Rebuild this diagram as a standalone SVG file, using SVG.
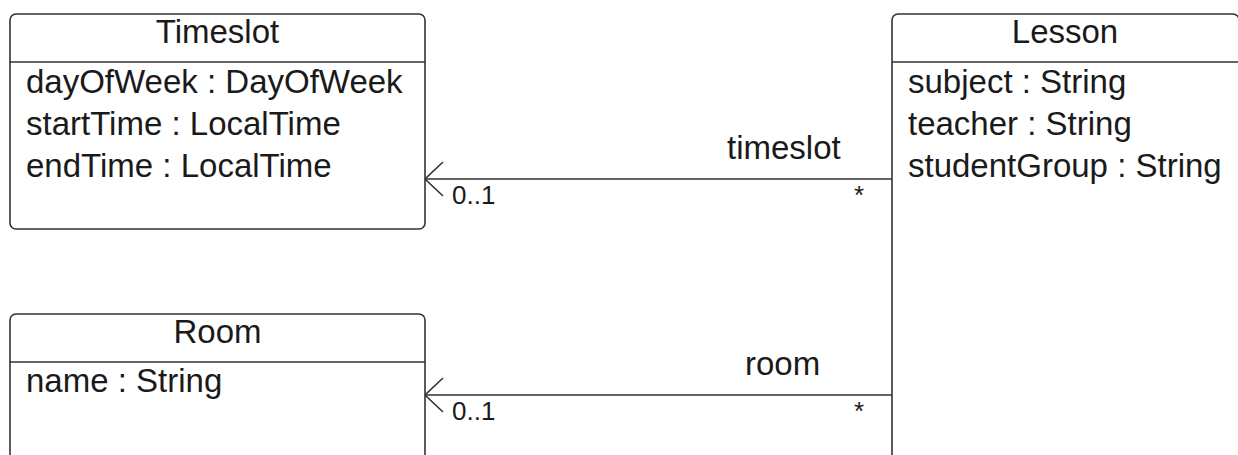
<svg xmlns="http://www.w3.org/2000/svg" width="1238" height="455" viewBox="0 0 1238 455">
<style>
.box{fill:#fff;stroke:#333;stroke-width:1.6}
.div{stroke:#333;stroke-width:1.6}
.t{font-family:"Liberation Sans",Arial,sans-serif;font-size:33px;fill:#1a1a1a}
.c{text-anchor:middle}
.m{font-family:"Liberation Sans",Arial,sans-serif;font-size:26px;fill:#1a1a1a}
.line{fill:none;stroke:#333;stroke-width:1.6}
</style>
<rect width="1238" height="455" fill="#fff"/>
<g id="connectors">
<g id="edge-timeslot">
<line class="line" x1="892" y1="179" x2="425" y2="179"/>
<polyline class="line" points="443,162 425,179 443,196"/>
<text class="t" x="727" y="159">timeslot</text>
<text class="m" x="452" y="204">0..1</text>
<text class="m" x="864" y="204" text-anchor="end">*</text>
</g>
<g id="edge-room">
<line class="line" x1="892" y1="395" x2="425" y2="395"/>
<polyline class="line" points="443,378 425,395 443,412"/>
<text class="t" x="745" y="375">room</text>
<text class="m" x="452" y="420">0..1</text>
<text class="m" x="864" y="420" text-anchor="end">*</text>
</g>
</g>
<g id="node-timeslot">
<rect class="box" x="10" y="14" width="415" height="215" rx="6"/>
<line class="div" x1="10" y1="62" x2="425" y2="62"/>
<text class="t c" x="217.5" y="43">Timeslot</text>
<text class="t" x="26" y="93">dayOfWeek : DayOfWeek</text>
<text class="t" x="26" y="135">startTime : LocalTime</text>
<text class="t" x="26" y="177">endTime : LocalTime</text>
</g>
<g id="node-room">
<rect class="box" x="10" y="314" width="415" height="200" rx="6"/>
<line class="div" x1="10" y1="362" x2="425" y2="362"/>
<text class="t c" x="217.5" y="343">Room</text>
<text class="t" x="26" y="392">name : String</text>
</g>
<g id="node-lesson">
<rect class="box" x="892" y="14" width="347" height="500" rx="6"/>
<line class="div" x1="892" y1="62" x2="1239" y2="62"/>
<text class="t c" x="1065" y="43">Lesson</text>
<text class="t" x="908" y="93">subject : String</text>
<text class="t" x="908" y="135">teacher : String</text>
<text class="t" x="908" y="177">studentGroup : String</text>
</g>
</svg>
